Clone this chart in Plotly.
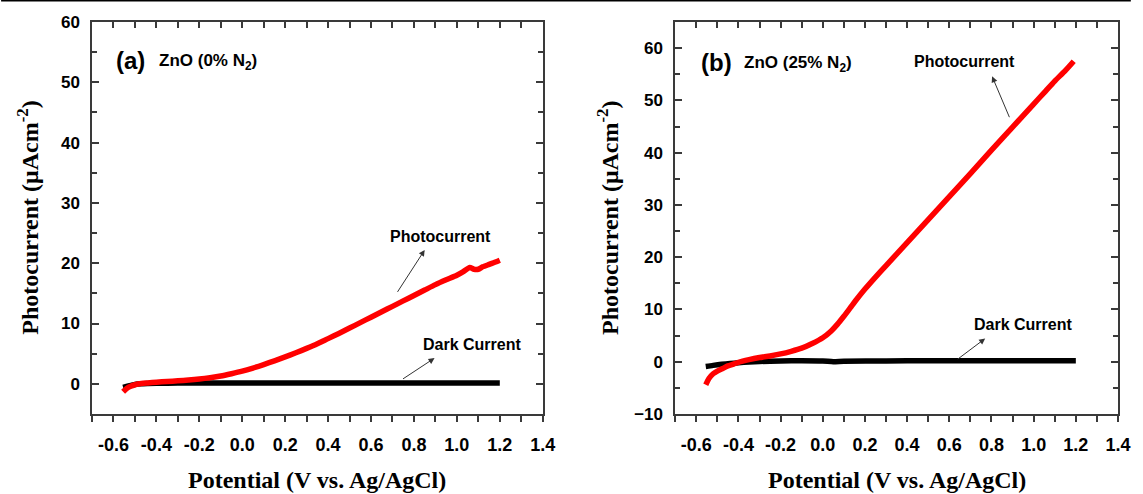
import plotly.graph_objects as go

# ---------------- data ----------------
a_photo_x = [-0.555, -0.54, -0.52, -0.50, -0.47, -0.44, -0.40, -0.35, -0.30, -0.25, -0.20, -0.15,
             -0.10, -0.05, 0.00, 0.05, 0.10, 0.15, 0.20, 0.25, 0.30, 0.35, 0.40, 0.45, 0.50, 0.55,
             0.60, 0.65, 0.70, 0.75, 0.80, 0.85, 0.90, 0.95, 1.00, 1.03, 1.06, 1.08, 1.10, 1.12,
             1.15, 1.18, 1.20]
a_photo_y = [-1.3, -0.8, -0.4, -0.15, 0.05, 0.15, 0.27, 0.4, 0.5, 0.63, 0.8, 1.02,
             1.3, 1.68, 2.1, 2.62, 3.2, 3.82, 4.47, 5.15, 5.88, 6.65, 7.5, 8.35, 9.25, 10.15,
             11.05, 11.95, 12.85, 13.75, 14.65, 15.55, 16.45, 17.25, 18.0, 18.6, 19.3, 19.0, 19.0, 19.4,
             19.8, 20.2, 20.5]
a_dark_x = [-0.555, -0.53, -0.50, -0.47, -0.44, -0.40, -0.30, -0.20, -0.10, 0.0, 0.2, 0.4,
            0.6, 0.8, 1.0, 1.2]
a_dark_y = [-0.6, -0.35, -0.1, 0.0, 0.05, 0.1, 0.12, 0.15, 0.15, 0.15, 0.15, 0.15,
            0.15, 0.15, 0.15, 0.15]

b_photo_x = [-0.555, -0.54, -0.52, -0.50, -0.475, -0.45, -0.42, -0.40, -0.35, -0.30, -0.25, -0.20,
             -0.15, -0.10, -0.05, 0.00, 0.04, 0.07, 0.10, 0.13, 0.16, 0.20, 0.25, 0.30, 0.40,
             0.50, 0.60, 0.70, 0.80, 0.90, 1.00, 1.05, 1.10, 1.15, 1.19]
b_photo_y = [-4.4, -3.2, -2.3, -1.8, -1.3, -0.8, -0.4, -0.1, 0.4, 0.8, 1.1, 1.5,
             2.0, 2.6, 3.5, 4.6, 5.9, 7.2, 8.7, 10.3, 11.9, 13.9, 16.2, 18.4, 22.8,
             27.2, 31.6, 36.0, 40.5, 44.9, 49.3, 51.5, 53.7, 55.7, 57.5]
b_dark_x = [-0.555, -0.52, -0.48, -0.44, -0.40, -0.35, -0.30, -0.20, -0.10, 0.0, 0.05, 0.1,
            0.3, 0.5, 0.7, 0.9, 1.1, 1.2]
b_dark_y = [-0.9, -0.7, -0.5, -0.35, -0.2, -0.05, 0.05, 0.15, 0.2, 0.15, 0.0, 0.1,
            0.15, 0.2, 0.2, 0.2, 0.2, 0.2]

x_tick_vals = [-0.6, -0.4, -0.2, 0.0, 0.2, 0.4, 0.6, 0.8, 1.0, 1.2, 1.4]
x_tick_text = ["-0.6", "-0.4", "-0.2", "0.0", "0.2", "0.4", "0.6", "0.8", "1.0", "1.2", "1.4"]
a_y_ticks = [0, 10, 20, 30, 40, 50, 60]
b_y_ticks = [-10, 0, 10, 20, 30, 40, 50, 60]

# ---------------- figure ----------------
RED = "rgb(255,0,0)"
AXC = "#3a3a3a"
SANS = "Liberation Sans, Arial, sans-serif"
SERIF = "Liberation Serif, Times New Roman, serif"
LW = 5.5

fig = go.Figure()
fig.add_trace(go.Scatter(x=a_dark_x, y=a_dark_y, mode="lines",
                         line=dict(color="black", width=LW, shape="spline", smoothing=0.6),
                         xaxis="x", yaxis="y", showlegend=False))
fig.add_trace(go.Scatter(x=a_photo_x, y=a_photo_y, mode="lines",
                         line=dict(color=RED, width=LW, shape="spline", smoothing=0.6),
                         xaxis="x", yaxis="y", showlegend=False))
fig.add_trace(go.Scatter(x=b_dark_x, y=b_dark_y, mode="lines",
                         line=dict(color="black", width=LW, shape="spline", smoothing=0.6),
                         xaxis="x2", yaxis="y2", showlegend=False))
fig.add_trace(go.Scatter(x=b_photo_x, y=b_photo_y, mode="lines",
                         line=dict(color=RED, width=LW, shape="spline", smoothing=0.6),
                         xaxis="x2", yaxis="y2", showlegend=False))
# empty traces to register top tick axes
fig.add_trace(go.Scatter(x=[], y=[], xaxis="x3", yaxis="y", showlegend=False, hoverinfo="skip"))
fig.add_trace(go.Scatter(x=[], y=[], xaxis="x4", yaxis="y2", showlegend=False, hoverinfo="skip"))

L_DOM = [0.0, 0.4393]
R_DOM = [0.5684, 1.0]

def xaxis_common(dom, anchor):
    return dict(domain=dom, anchor=anchor, range=[-0.7, 1.4], tickmode="array",
                tickvals=x_tick_vals, ticktext=x_tick_text,
                ticks="outside", ticklen=6, tickwidth=1.5, tickcolor=AXC,
                minor=dict(dtick=0.1, tick0=-0.7, ticks="outside", ticklen=6, tickwidth=1.5, tickcolor=AXC),
                showline=True, linewidth=1.5, linecolor=AXC, mirror=True,
                showgrid=False, zeroline=False,
                tickfont=dict(family=SANS, size=18, color="black", weight="bold"),
                ticklabelstandoff=8)

def xaxis_top(dom, anchor, over):
    return dict(domain=dom, anchor=anchor, overlaying=over, side="top", range=[-0.7, 1.4],
                tickmode="array", tickvals=x_tick_vals, showticklabels=False,
                ticks="inside", ticklen=6, tickwidth=1.5, tickcolor=AXC,
                minor=dict(dtick=0.1, tick0=-0.7, ticks="inside", ticklen=6, tickwidth=1.5, tickcolor=AXC),
                showline=False, showgrid=False, zeroline=False)

def yaxis_common(rng, tv, anchor):
    return dict(domain=[0, 1], anchor=anchor, range=rng, tickmode="array", tickvals=tv,
                ticks="inside", ticklen=7, tickwidth=1.5, tickcolor=AXC,
                minor=dict(dtick=5, tick0=0, ticks="inside", ticklen=5, tickwidth=1.5, tickcolor=AXC),
                showline=True, linewidth=1.5, linecolor=AXC, mirror="ticks",
                showgrid=False, zeroline=False,
                tickfont=dict(family=SANS, size=17, color="black", weight="bold"),
                ticklabelstandoff=7)

fig.update_layout(
    width=1143, height=494, autosize=False,
    margin=dict(l=92, r=13, t=22, b=80, pad=0),
    paper_bgcolor="white", plot_bgcolor="white",
    xaxis=xaxis_common(L_DOM, "y"),
    xaxis2=xaxis_common(R_DOM, "y2"),
    xaxis3=xaxis_top(L_DOM, "y", "x"),
    xaxis4=xaxis_top(R_DOM, "y2", "x2"),
    yaxis=yaxis_common([-5, 60], a_y_ticks, "x"),
    yaxis2=yaxis_common([-10, 65], b_y_ticks, "x2"),
)

ann = []
lbl_font = dict(family=SANS, size=16, color="black", weight="bold")
big_font = dict(family=SANS, size=24, color="black", weight="bold")
sub_font = dict(family=SANS, size=17, color="black", weight="bold")
# panel a labels
ann.append(dict(x=-0.597, y=53.6, xref="x", yref="y", text="(a)", showarrow=False,
                xanchor="left", yanchor="middle", font=big_font))
ann.append(dict(x=-0.396, y=53.4, xref="x", yref="y", text="ZnO (0% N<sub>2</sub>)", showarrow=False,
                xanchor="left", yanchor="middle", font=sub_font))
ann.append(dict(x=0.922, y=24.5, xref="x", yref="y", text="Photocurrent", showarrow=False,
                xanchor="center", yanchor="middle", font=lbl_font))
ann.append(dict(x=1.07, y=6.6, xref="x", yref="y", text="Dark Current", showarrow=False,
                xanchor="center", yanchor="middle", font=lbl_font))
ann.append(dict(x=0.85, y=22.2, xref="x", yref="y", ax=0.719, ay=15.0, axref="x", ayref="y",
                text="", showarrow=True, arrowhead=2, arrowsize=1.2, arrowwidth=1, arrowcolor="#333"))
ann.append(dict(x=0.896, y=4.27, xref="x", yref="y", ax=0.742, ay=0.66, axref="x", ayref="y",
                text="", showarrow=True, arrowhead=2, arrowsize=1.2, arrowwidth=1, arrowcolor="#333"))
# panel b labels
ann.append(dict(x=-0.587, y=57.2, xref="x2", yref="y2", text="(b)", showarrow=False,
                xanchor="left", yanchor="middle", font=big_font))
ann.append(dict(x=-0.381, y=57.0, xref="x2", yref="y2", text="ZnO (25% N<sub>2</sub>)", showarrow=False,
                xanchor="left", yanchor="middle", font=sub_font))
ann.append(dict(x=0.671, y=57.5, xref="x2", yref="y2", text="Photocurrent", showarrow=False,
                xanchor="center", yanchor="middle", font=lbl_font))
ann.append(dict(x=0.95, y=7.2, xref="x2", yref="y2", text="Dark Current", showarrow=False,
                xanchor="center", yanchor="middle", font=lbl_font))
ann.append(dict(x=0.803, y=54.6, xref="x2", yref="y2", ax=0.888, ay=46.5, axref="x2", ayref="y2",
                text="", showarrow=True, arrowhead=2, arrowsize=1.2, arrowwidth=1, arrowcolor="#333"))
ann.append(dict(x=0.770, y=4.44, xref="x2", yref="y2", ax=0.633, ay=0.29, axref="x2", ayref="y2",
                text="", showarrow=True, arrowhead=2, arrowsize=1.2, arrowwidth=1, arrowcolor="#333"))
# axis titles
title_font = dict(family=SERIF, size=24, color="black", weight="bold")
ytitle = "Photocurrent (\u03bcAcm<sup>-2</sup>)"
xtitle = "Potential (V vs. Ag/AgCl)"
ann.append(dict(x=-0.0626, y=0.5, xref="paper", yref="paper", text=ytitle, textangle=-90,
                showarrow=False, xanchor="center", yanchor="middle", font=title_font))
ann.append(dict(x=0.5029, y=0.5, xref="paper", yref="paper", text=ytitle, textangle=-90,
                showarrow=False, xanchor="center", yanchor="middle", font=title_font))
ann.append(dict(x=(L_DOM[0] + L_DOM[1]) / 2, y=-0.168, xref="paper", yref="paper", text=xtitle,
                showarrow=False, xanchor="center", yanchor="middle", font=title_font))
ann.append(dict(x=(R_DOM[0] + R_DOM[1]) / 2, y=-0.168, xref="paper", yref="paper", text=xtitle,
                showarrow=False, xanchor="center", yanchor="middle", font=title_font))
fig.update_layout(annotations=ann)

# thin border line across the very top of the image
fig.add_shape(type="line", xref="paper", yref="paper", x0=-0.0886, x1=1.0125,
              y0=1.0548, y1=1.0548, line=dict(color="black", width=2))

fig.write_html("out.html")
